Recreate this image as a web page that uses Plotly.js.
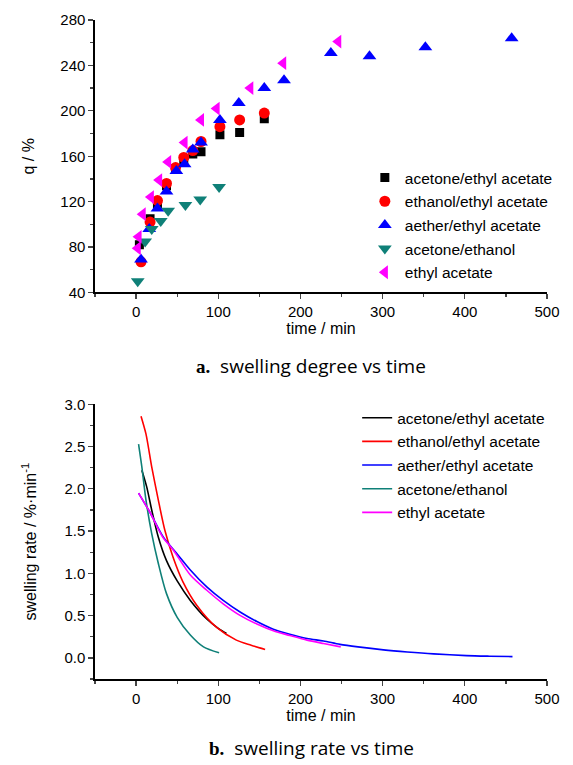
<!DOCTYPE html>
<html><head><meta charset="utf-8">
<script src="https://cdn.plot.ly/plotly-3.0.1.min.js"></script>
<style>html,body{margin:0;padding:0;background:#fff}#chart{width:573px;height:765px}</style>
</head><body><div id="chart"></div>
<script>
// ---- series names ----
const names = ["acetone/ethyl acetate","ethanol/ethyl acetate","aether/ethyl acetate","acetone/ethanol","ethyl acetate"];
const colors = ["#000000","#ff0000","#0000ff","#0f8078","#ff00ff"];

// ---- (a) swelling degree q (%) vs time (min) ----
const tAcEa = [4,17,26,37,48,58,69,79,102,126,156];
const qAcEa = [82,105,118,134,149,156,162,164,179,181,193];
const tEtEa = [6,17,26,37,48,58,69,79,102,126,156];
const qEtEa = [67,102,121,136,150,159,165,173,186,192,198];
const tAeEa = [6,16,26,37,49,59,69,79,102,125,156,180,237,284,352,457];
const qAeEa = [69,96,114,129,147,153,166,172,192,207,220,227,251,248,256,264];
const tAcEt = [2,11,19,30,39,60,78,101];
const qAcEt = [50,85,96,103,112,117,122,133];
const tEa = [2,3,8,18,28,39,59,79,98,139,179,246];
const qEa = [79,89,109,124,139,155,172,192,202,220,242,261];

// ---- (b) swelling rate (%/min) vs time (min) ----
const rtAcEa = [7,13,19,27,37,50,66,86,100,110];
const rAcEa  = [2.22,2.02,1.75,1.43,1.15,0.91,0.68,0.46,0.35,0.29];
const rtEtEa = [6,12,19,27,35,45,57,74,98,122,140,157];
const rEtEa  = [2.86,2.65,2.26,1.87,1.51,1.19,0.90,0.62,0.36,0.21,0.15,0.10];
const rtAeEa = [3,17,33,50,66,86,106,127,147,167,187,208,228,248,270,301,330,362,402,430,458];
const rAeEa  = [1.95,1.72,1.43,1.23,1.04,0.84,0.68,0.54,0.43,0.34,0.28,0.23,0.20,0.16,0.13,0.095,0.07,0.047,0.027,0.02,0.015];
const rtAcEt = [3,7,12,19,27,37,50,66,82,101];
const rAcEt  = [2.53,2.26,1.87,1.47,1.12,0.76,0.48,0.27,0.13,0.06];
const rtEa   = [3,17,33,45,66,86,106,127,147,167,187,208,228,249];
const rEa    = [1.95,1.72,1.42,1.28,0.98,0.80,0.64,0.50,0.40,0.32,0.265,0.21,0.17,0.13];

const symbols = ["square","circle","triangle-up","triangle-down","triangle-left"];
const sizes = [9,11,12,12,12];
const scT = [tAcEa,tEtEa,tAeEa,tAcEt,tEa];
const scQ = [qAcEa,qEtEa,qAeEa,qAcEt,qEa];
const lnT = [rtAcEa,rtEtEa,rtAeEa,rtAcEt,rtEa];
const lnR = [rAcEa,rEtEa,rAeEa,rAcEt,rEa];

const traces = [];
for (let i=0;i<5;i++){
  traces.push({type:"scatter",mode:"markers",x:scT[i],y:scQ[i],name:names[i],
    xaxis:"x",yaxis:"y",legend:"legend",legendgroup:"a"+i,
    marker:{symbol:symbols[i],size:sizes[i],color:colors[i],line:{width:0}}});
}
for (let i=0;i<5;i++){
  traces.push({type:"scatter",mode:"lines",x:lnT[i],y:lnR[i],name:names[i],
    xaxis:"x2",yaxis:"y2",legend:"legend2",legendgroup:"b"+i,
    line:{color:colors[i],width:1.6,shape:"spline",smoothing:0.8}});
}

const FAM = "Liberation Sans, Arial, sans-serif";
const tickFont = {family:FAM,size:15,color:"#000"};
const titleFont = {family:FAM,size:16,color:"#000"};
const xCommon = {range:[-50,500],dtick:100,tick0:0,ticks:"outside",ticklen:5,tickwidth:1.3,
  showline:true,linewidth:1.6,linecolor:"#000",showgrid:false,zeroline:false,
  tickfont:tickFont,minor:{dtick:50,ticks:"outside",ticklen:3,tickwidth:1.3,showgrid:false}};

const layout = {
  width:573,height:765,paper_bgcolor:"#fff",plot_bgcolor:"#fff",
  margin:{l:95,r:26,t:20,b:86},
  font:{family:FAM,color:"#000"},
  showlegend:true,
  xaxis:Object.assign({},xCommon,{anchor:"y",domain:[0,1],
    title:{text:"time / min",font:titleFont,standoff:3}}),
  yaxis:{domain:[0.5865,1],range:[40,280],dtick:40,tick0:40,ticks:"outside",ticklen:5,tickwidth:1.3,
    showline:true,linewidth:1.6,linecolor:"#000",showgrid:false,zeroline:false,anchor:"x",
    tickfont:tickFont,minor:{dtick:20,ticks:"outside",ticklen:3,tickwidth:1.3,showgrid:false},
    title:{text:"q / %",font:titleFont,standoff:22}},
  xaxis2:Object.assign({},xCommon,{anchor:"y2",domain:[0,1],
    title:{text:"time / min",font:titleFont,standoff:3}}),
  yaxis2:{domain:[0,0.4168],range:[-0.25,3.0],dtick:0.5,tick0:0,ticks:"outside",ticklen:5,tickwidth:1.3,
    showline:true,linewidth:1.6,linecolor:"#000",showgrid:false,zeroline:false,anchor:"x2",
    tickformat:".1f",tickfont:tickFont,minor:{dtick:0.25,ticks:"outside",ticklen:3,tickwidth:1.3,showgrid:false},
    title:{text:"swelling rate / %·min<sup>-1</sup>",font:titleFont,standoff:24}},
  legend:{x:0.597,y:0.786,xanchor:"left",yanchor:"top",bgcolor:"rgba(0,0,0,0)",
    font:{family:FAM,size:15.5,color:"#000"},tracegroupgap:0.5,itemwidth:30},
  legend2:{x:0.58,y:0.4216,xanchor:"left",yanchor:"top",bgcolor:"rgba(0,0,0,0)",
    font:{family:FAM,size:15.5,color:"#000"},tracegroupgap:0.5,itemwidth:30},
  annotations:[
    {xref:"paper",yref:"paper",x:(311-95)/452,y:(679-366)/659,xanchor:"center",yanchor:"middle",showarrow:false,
     text:"<b><span style=\"font-family:Liberation Serif\">a.</span></b>  swelling degree vs time",
     font:{family:"Open Sans, sans-serif",size:19,color:"#000"}},
    {xref:"paper",yref:"paper",x:(311-95)/452,y:(679-748)/659,xanchor:"center",yanchor:"middle",showarrow:false,
     text:"<b><span style=\"font-family:Liberation Serif\">b.</span></b>  swelling rate vs time",
     font:{family:"Open Sans, sans-serif",size:19,color:"#000"}}
  ]
};
Plotly.newPlot("chart",traces,layout,{staticPlot:true,displayModeBar:false});
</script></body></html>
